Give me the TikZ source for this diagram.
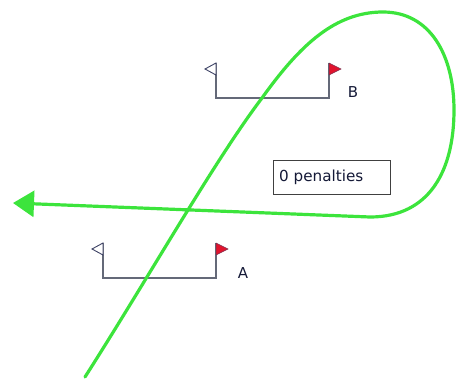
\documentclass[tikz,border=0pt]{standalone}
\usepackage{fontspec}
\setmainfont{DejaVu Sans}
\usetikzlibrary{arrows.meta}
\definecolor{track}{RGB}{60,228,60}
\definecolor{post}{RGB}{100,105,120}
\definecolor{flagedge}{RGB}{60,65,100}
\definecolor{flagred}{RGB}{225,20,45}
\definecolor{txt}{RGB}{20,25,55}
\tikzset{
  gateline/.style={draw=post, line width=1.2pt},
  whiteflag/.style={draw=flagedge, fill=white, line width=0.9pt, line join=miter},
  redflag/.style={draw=flagedge!60!flagred, fill=flagred, line width=0.5pt},
  gatelabel/.style={text=txt, font=\fontsize{15}{17}\selectfont, inner sep=0pt},
  penbox/.style={draw=black!75, line width=0.9pt, fill=white, minimum width=117pt, minimum height=34pt, inner sep=0pt},
  trackline/.style={draw=track, line width=3.2pt, line cap=round}
}
\begin{document}
\begin{tikzpicture}[x=1pt, y=-1pt]
\useasboundingbox (0,0) rectangle (456,381);
% gate B
\coordinate (BL) at (216,63);
\coordinate (BR) at (329,63);
\draw[gateline] (BL) -- (216,98) -- (329,98) -- (BR);
\draw[whiteflag] (BL) -- (205,69) -- (216,75) -- cycle;
\draw[redflag] (BR) -- (341,69) -- (329,75) -- cycle;
\node[gatelabel] (labB) at (353,92) {B};
% gate A
\coordinate (AL) at (103,243);
\coordinate (AR) at (216,243);
\draw[gateline] (AL) -- (103,278) -- (216,278) -- (AR);
\draw[whiteflag] (AL) -- (92,249) -- (103,255) -- cycle;
\draw[redflag] (AR) -- (228,249) -- (216,255) -- cycle;
\node[gatelabel] (labA) at (243,273) {A};
% penalties box
\node[penbox] (pen) at (331.5,177) {};
\node[anchor=west, text=txt, font=\fontsize{15.2}{18}\selectfont, inner sep=0pt] (pentext) at (279,177) {0 penalties};
% track
\coordinate (start) at (85,377);
\coordinate (tip) at (13,203);
\draw[trackline, -{Triangle[length=21pt,width=26pt]}] (start)
  .. controls (150,275) and (215,160) .. (262,98)
  .. controls (300,45) and (335,12) .. (383,12)
  .. controls (430,12) and (454,55) .. (454,110)
  .. controls (454,170) and (430,217) .. (370,217)
  -- (tip);
\end{tikzpicture}
\end{document}
